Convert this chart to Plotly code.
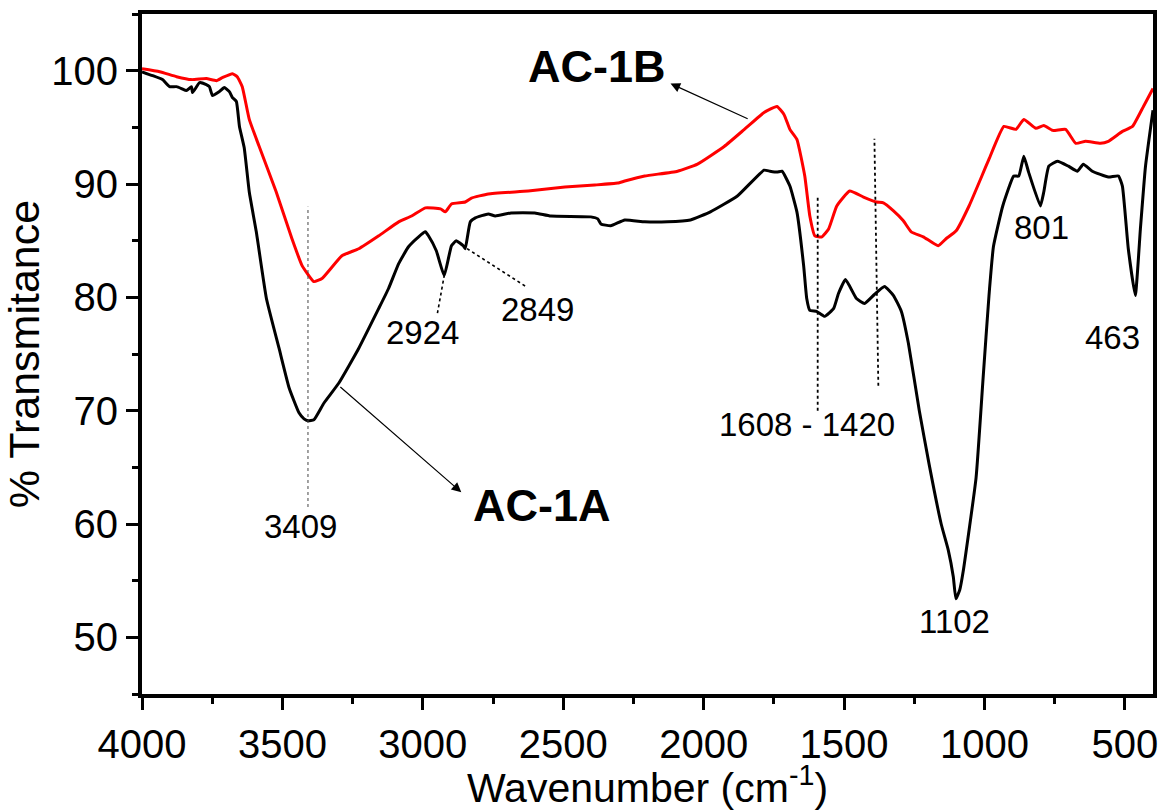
import plotly.graph_objects as go

# FTIR spectra (wavenumber in cm-1, % transmittance)
wn_1a = [4000, 3962, 3927, 3902, 3877, 3859, 3842, 3824, 3820, 3795, 3771, 3760,
         3749, 3725, 3707, 3689, 3678, 3664, 3653, 3636, 3618, 3593, 3557, 3512,
         3476, 3441, 3423, 3409, 3388, 3352, 3299, 3228, 3157, 3122, 3086, 3051,
         3015, 2991, 2980, 2952, 2924, 2898, 2881, 2856, 2849, 2831, 2813, 2767,
         2742, 2686, 2601, 2544, 2402, 2377, 2366, 2331, 2281, 2210, 2129, 2047,
         1976, 1880, 1785, 1764, 1739, 1721, 1693, 1668, 1644, 1633, 1622, 1598,
         1569, 1537, 1520, 1495, 1456, 1427, 1392, 1356, 1324, 1296, 1271, 1232,
         1197, 1154, 1129, 1111, 1102, 1088, 1076, 1030, 1005, 984, 968, 935, 896,
         878, 860, 843, 801, 789, 771, 740, 701, 669, 648, 616, 559, 523, 509,
         488, 463, 445, 427, 400]
t_1a = [99.9, 99.56, 99.21, 98.59, 98.59, 98.42, 98.24, 98.59, 98.07, 98.94, 98.77,
        98.59, 97.8, 98.15, 98.51, 98.15, 97.63, 97.28, 95.08, 93.2, 89.29, 85.78,
        79.9, 75.51, 72.0, 69.81, 69.28, 69.11, 69.19, 70.68, 72.44, 75.51, 79.02,
        80.78, 82.97, 84.46, 85.34, 85.78, 85.43, 84.11, 81.92, 84.55, 84.99, 84.55,
        84.29, 86.66, 87.01, 87.36, 87.18, 87.45, 87.45, 87.18, 87.1, 86.92, 86.48,
        86.31, 86.83, 86.66, 86.66, 86.83, 87.54, 88.94, 91.22, 91.13, 91.05, 91.13,
        89.82, 87.54, 82.8, 79.9, 78.85, 78.76, 78.32, 79.02, 80.34, 81.57, 79.9,
        79.46, 80.25, 80.95, 80.16, 78.76, 75.95, 69.98, 65.24, 59.98, 57.7, 55.33,
        53.4, 54.2, 55.8, 64.1, 72.88, 80.16, 84.5, 88.06, 90.7, 90.7, 92.45, 91.05,
        88.06, 89.29, 91.57, 92.01, 91.57, 91.13, 91.75, 91.13, 90.61, 90.7, 89.82,
        84.29, 80.16, 86.0, 91.5, 96.5]

wn_1b = [4000, 3937, 3877, 3824, 3771, 3735, 3714, 3678, 3661, 3643, 3618, 3583,
         3522, 3466, 3430, 3388, 3359, 3288, 3228, 3157, 3086, 3040, 2991, 2937,
         2920, 2898, 2849, 2827, 2767, 2625, 2494, 2388, 2306, 2281, 2210, 2093,
         2022, 1926, 1855, 1785, 1739, 1714, 1693, 1668, 1640, 1622, 1604, 1579,
         1555, 1526, 1480, 1431, 1384, 1360, 1324, 1289, 1261, 1218, 1165, 1137,
         1101, 1055, 984, 931, 888, 860, 817, 789, 757, 711, 675, 640, 587, 559,
         509, 473, 434, 400]
t_1b = [100.17, 99.91, 99.47, 99.21, 99.3, 99.12, 99.38, 99.73, 99.47, 98.59,
        95.7, 93.33, 89.29, 85.17, 82.8, 81.39, 81.66, 83.67, 84.29, 85.43, 86.66,
        87.18, 87.89, 87.8, 87.54, 88.24, 88.41, 88.76, 89.12, 89.38, 89.73, 89.91,
        90.08, 90.26, 90.7, 91.13, 91.75, 93.33, 94.82, 96.31, 96.84, 96.14, 94.82,
        93.94, 90.7, 87.18, 85.43, 85.34, 86.04, 88.06, 89.38, 88.85, 88.41, 88.33,
        87.62, 86.75, 85.78, 85.34, 84.55, 85.17, 85.87, 88.06, 92.19, 95.08, 94.82,
        95.7, 94.91, 95.17, 94.73, 94.82, 93.59, 93.77, 93.59, 93.77, 94.64, 95.08,
        96.84, 98.42]

# peak labels: (text, x, y)
peak_labels = [("3409", 3436, 59.8), ("2924", 3001, 76.9), ("2849", 2590, 78.9),
               ("1608 - 1420", 1633, 68.8), ("1102", 1108, 51.4),
               ("801", 796, 86.2), ("463", 544, 76.5)]

FONT = "Liberation Sans, Arial, sans-serif"

fig = go.Figure()
fig.add_trace(go.Scatter(x=wn_1a, y=t_1a, mode="lines", name="AC-1A",
                         line=dict(color="black", width=3, shape="spline", smoothing=0.4)))
fig.add_trace(go.Scatter(x=wn_1b, y=t_1b, mode="lines", name="AC-1B",
                         line=dict(color="#ff0000", width=3, shape="spline", smoothing=0.4)))

# guide lines for the assigned bands
guides = [
    (3409, 61.5, 3409, 88.0, 1, "dot", "#444"),
    (2948, 78.6, 2924, 81.9, 1.6, "dot", "black"),
    (2636, 81.0, 2849, 84.4, 1.6, "dot", "black"),
    (1594, 70.0, 1594, 88.9, 1.8, "dot", "black"),
    (1378, 72.2, 1392, 94.0, 1.8, "dot", "black"),
]
for x0, y0, x1, y1, w, d, c in guides:
    fig.add_shape(type="line", xref="x", yref="y", x0=x0, y0=y0, x1=x1, y1=y1,
                  line=dict(color=c, width=w, dash=d))

for txt, x, y in peak_labels:
    fig.add_annotation(x=x, y=y, text=txt, showarrow=False,
                       font=dict(family=FONT, size=33, color="black"))

# sample labels with pointer arrows
fig.add_annotation(x=2381, y=100.35, text="<b>AC-1B</b>", showarrow=False,
                   font=dict(family=FONT, size=45, color="black"))
fig.add_annotation(x=2118, y=98.86, ax=1838, ay=95.7, axref="x", ayref="y",
                   text="", showarrow=True, arrowhead=2, arrowsize=1.6,
                   arrowwidth=1.2, arrowcolor="black")
fig.add_annotation(x=2576, y=61.65, text="<b>AC-1A</b>", showarrow=False,
                   font=dict(family=FONT, size=45, color="black"))
fig.add_annotation(x=2863, y=62.8, ax=3299, ay=72.2, axref="x", ayref="y",
                   text="", showarrow=True, arrowhead=2, arrowsize=1.6,
                   arrowwidth=1.2, arrowcolor="black")

axis_common = dict(showline=True, linewidth=4, linecolor="black", mirror=True,
                   ticks="outside", ticklen=12, tickwidth=3, tickcolor="black",
                   showgrid=False, zeroline=False,
                   tickfont=dict(family=FONT, size=40, color="black"))

fig.update_xaxes(range=[4000, 400], tick0=500, dtick=500,
                 minor=dict(ticks="outside", ticklen=6, tickwidth=3, tickcolor="black",
                            tick0=250, dtick=250, showgrid=False),
                 title=dict(text="Wavenumber (cm<sup>-1</sup>)", standoff=8,
                            font=dict(family=FONT, size=41, color="black")),
                 **axis_common)
fig.update_yaxes(range=[45, 105], tick0=0, dtick=10,
                 minor=dict(ticks="outside", ticklen=6, tickwidth=3, tickcolor="black",
                            tick0=5, dtick=5, showgrid=False),
                 title=dict(text="% Transmitance", standoff=10,
                            font=dict(family=FONT, size=43, color="black")),
                 **axis_common)

fig.update_layout(width=1166, height=811, showlegend=False,
                  plot_bgcolor="white", paper_bgcolor="white",
                  margin=dict(l=142, r=8, t=14, b=113))

fig.write_html("out.html")
